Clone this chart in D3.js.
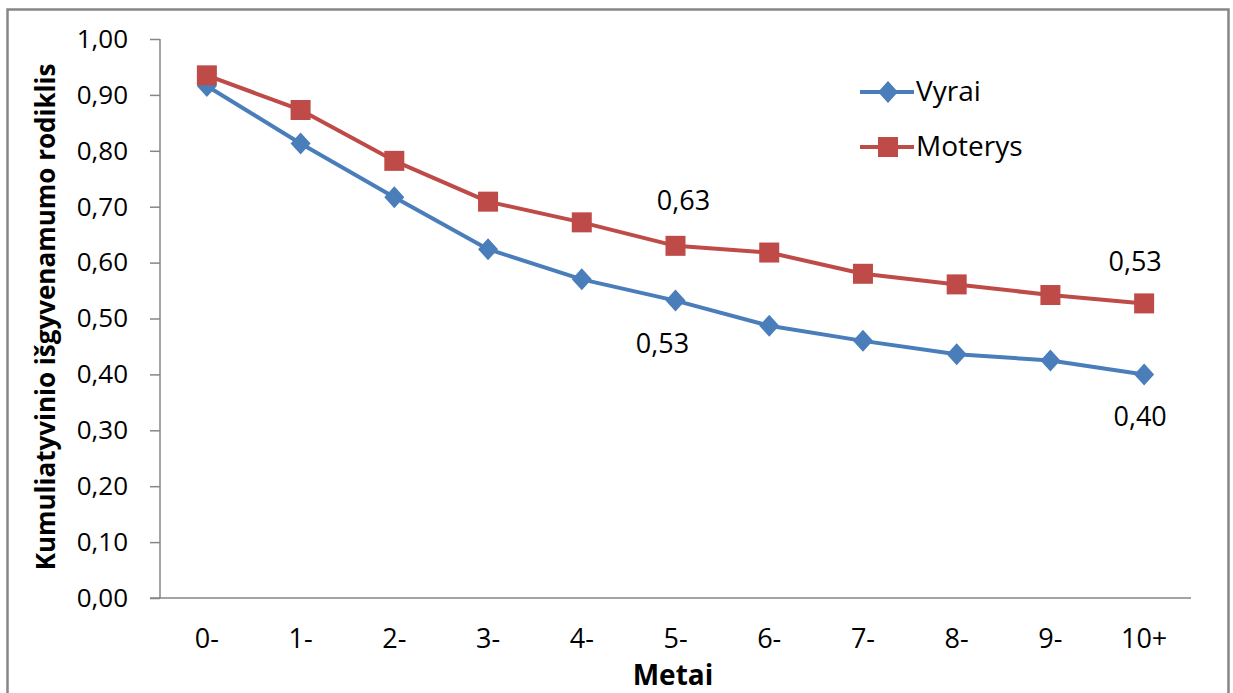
<!DOCTYPE html>
<html>
<head>
<meta charset="utf-8">
<script src="https://cdn.jsdelivr.net/npm/d3@7"></script>
<style>
  html, body { margin: 0; padding: 0; background: #fff; }
  svg { display: block; font-family: "Open Sans", Lato, sans-serif; }
</style>
</head>
<body>
<svg id="chart" width="1233" height="693"></svg>
<script>
// Cumulative survival index by years since diagnosis
const categories = ["0-", "1-", "2-", "3-", "4-", "5-", "6-", "7-", "8-", "9-", "10+"];
const vyrai   = [0.916, 0.813, 0.717, 0.624, 0.570, 0.532, 0.487, 0.460, 0.436, 0.425, 0.400];
const moterys = [0.935, 0.873, 0.782, 0.709, 0.672, 0.630, 0.618, 0.580, 0.561, 0.542, 0.527];
const yTicks  = [0, 0.1, 0.2, 0.3, 0.4, 0.5, 0.6, 0.7, 0.8, 0.9, 1.0];
const seriesNames = ["Vyrai", "Moterys"];
// Points that carry value labels: [series index, category index]
const labelled = [[1, 5], [0, 5], [1, 10], [0, 10]];

// label placement relative to its point (dx, dy to baseline)
const labelOffsets = [[8, -36], [-13, 52], [-9, -32], [-4, 52]];

const svg = d3.select("#chart");
const plot = { left: 160, right: 1191, top: 39, bottom: 598 };
const colors = ["#4A7EBB", "#BE4B48"];
const axisGrey = "#868686";
const fmt = v => d3.format(".2f")(v).replace(".", ",");

// outer frame
svg.append("rect").attr("x", 7.5).attr("y", 9.5).attr("width", 1221).attr("height", 700)
  .attr("fill", "none").attr("stroke", axisGrey).attr("stroke-width", 2.5);

const x = d3.scaleBand().domain(categories).range([plot.left, plot.right]);
const y = d3.scaleLinear().domain([0, 1]).range([plot.bottom, plot.top]);

// y axis
const yAxis = svg.append("g").attr("transform", `translate(${plot.left},0)`)
  .call(d3.axisLeft(y).tickValues(yTicks).tickSize(10).tickPadding(22).tickFormat(fmt));
yAxis.attr("font-family", null).attr("font-size", null);
yAxis.select(".domain").attr("stroke", axisGrey).attr("stroke-width", 1.5)
  .attr("d", `M0,${plot.top}V${plot.bottom}`);
yAxis.selectAll(".tick line").attr("stroke", axisGrey).attr("stroke-width", 1.5);
yAxis.selectAll(".tick text").style("font-size", "26px").attr("fill", "#000");

// x axis
const xAxis = svg.append("g").attr("transform", `translate(0,${plot.bottom})`)
  .call(d3.axisBottom(x).tickSize(0).tickPadding(31));
xAxis.attr("font-family", null).attr("font-size", null);
xAxis.select(".domain").attr("stroke", axisGrey).attr("stroke-width", 1.5)
  .attr("d", `M${plot.left - 10},0H${plot.right}`);
xAxis.selectAll(".tick text").style("font-size", "27px").attr("fill", "#000");

// axis titles
svg.append("text").attr("transform", `translate(55,317) rotate(-90)`)
  .attr("text-anchor", "middle").attr("font-weight", "bold").style("font-size", "26px")
  .text("Kumuliatyvinio išgyvenamumo rodiklis");
svg.append("text").attr("x", 673).attr("y", 685)
  .attr("text-anchor", "middle").attr("font-weight", "bold").style("font-size", "28px")
  .text("Metai");

const cx = c => x(c) + x.bandwidth() / 2;
const line = d3.line().x((d, i) => cx(categories[i])).y(d => y(d));
const allSeries = [vyrai, moterys];

function marker(g, kind, color) {
  if (kind === 0) {
    g.append("path").attr("d", "M0,-11L10,0L0,11L-10,0Z").attr("fill", color);
  } else {
    g.append("rect").attr("x", -10).attr("y", -10).attr("width", 20).attr("height", 20)
      .attr("fill", color);
  }
}

allSeries.forEach((vals, s) => {
  svg.append("path").datum(vals).attr("d", line).attr("fill", "none")
    .attr("stroke", colors[s]).attr("stroke-width", 4).attr("stroke-linejoin", "round");
});
allSeries.forEach((vals, s) => {
  vals.forEach((v, i) => {
    const g = svg.append("g").attr("transform", `translate(${cx(categories[i])},${y(v)})`);
    marker(g, s, colors[s]);
  });
});

// value labels
labelled.forEach(([s, i], k) => {
  const v = allSeries[s][i];
  const [dx, dy] = labelOffsets[k];
  svg.append("text").attr("x", cx(categories[i]) + dx).attr("y", y(v) + dy)
    .attr("text-anchor", "middle").style("font-size", "27px").text(fmt(v));
});

// legend
seriesNames.forEach((name, s) => {
  const ly = 92 + s * 55;
  svg.append("line").attr("x1", 860).attr("x2", 914).attr("y1", ly).attr("y2", ly)
    .attr("stroke", colors[s]).attr("stroke-width", 4);
  const g = svg.append("g").attr("transform", `translate(888,${ly})`);
  marker(g, s, colors[s]);
  svg.append("text").attr("x", 916).attr("y", ly + 9).style("font-size", "28px").text(name);
});
</script>
</body>
</html>
